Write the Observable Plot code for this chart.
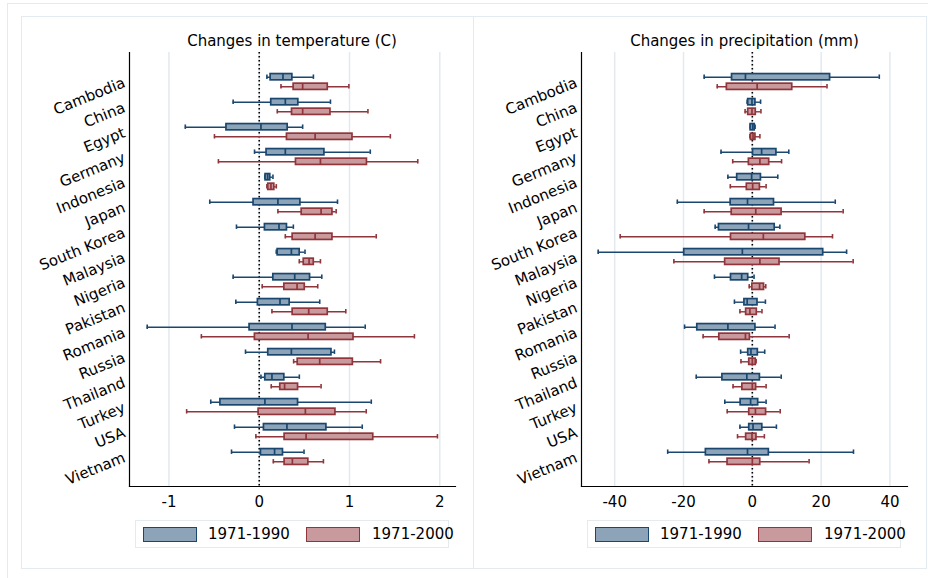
<!DOCTYPE html>
<html><head><meta charset="utf-8">
<script src="https://cdn.jsdelivr.net/npm/d3@7"></script>
<script src="https://cdn.jsdelivr.net/npm/@observablehq/plot@0.6"></script>
<style>
body{margin:0;background:#fff;font-family:"DejaVu Sans",sans-serif;}
#wrap{position:relative;width:928px;height:578px;overflow:hidden;background:#fff;}
.frame{position:absolute;border:1px solid #e4ebf0;box-sizing:border-box;}
.title{position:absolute;text-align:center;font-size:15px;line-height:16px;color:#000;white-space:nowrap;}
.legend{position:absolute;height:28px;width:314px;border:1px solid #e4ebf0;box-sizing:border-box;background:#fff;}
.sw{position:absolute;top:6px;width:54px;height:15px;box-sizing:border-box;border:1.6px solid;}
.lt{position:absolute;top:-1px;font-size:15px;line-height:28px;color:#000;white-space:nowrap;}
.plot{position:absolute;top:16px;}
</style></head><body><div id="wrap"></div>
<script>
const countries = ["Cambodia","China","Egypt","Germany","Indonesia","Japan","South Korea","Malaysia","Nigeria","Pakistan","Romania","Russia","Thailand","Turkey","USA","Vietnam"];
const series = ["1971-1990","1971-2000"];
const tempTicks = [-1, 0, 1, 2];
const precTicks = [-40, -20, 0, 20, 40];
// five-number summaries per country: [lower whisker, q1, median, q3, upper whisker]
const temp1990 = [[0.085,0.126,0.263,0.367,0.6],[-0.289,0.133,0.289,0.433,0.789],[-0.819,-0.363,0.019,0.315,0.481],[-0.052,0.081,0.289,0.722,1.23],[0.063,0.07,0.093,0.122,0.152],[-0.548,-0.063,0.207,0.456,0.867],[-0.252,0.063,0.219,0.307,0.378],[0.189,0.204,0.356,0.448,0.507],[-0.289,0.156,0.393,0.563,0.693],[-0.259,-0.015,0.23,0.337,0.67],[-1.241,-0.107,0.363,0.737,1.174],[-0.152,0.1,0.356,0.8,0.833],[0.019,0.067,0.141,0.278,0.444],[-0.537,-0.43,0.063,0.43,1.241],[-0.274,0.052,0.307,0.744,1.141],[-0.307,0.019,0.17,0.263,0.496]];
const temp2000 = [[0.241,0.381,0.481,0.759,0.993],[0.2,0.363,0.481,0.789,1.204],[-0.496,0.307,0.619,1.033,1.452],[-0.452,0.407,0.678,1.193,1.756],[0.085,0.1,0.13,0.167,0.189],[0.207,0.47,0.685,0.811,0.852],[0.289,0.37,0.619,0.811,1.296],[0.444,0.493,0.552,0.604,0.678],[0.033,0.278,0.419,0.504,0.648],[0.141,0.37,0.548,0.759,0.959],[-0.641,-0.048,0.541,1.044,1.719],[0.381,0.426,0.67,1.037,1.344],[0.133,0.233,0.281,0.43,0.685],[-0.804,-0.007,0.511,0.844,1.185],[-0.037,0.281,0.519,1.263,1.974],[0.156,0.281,0.367,0.544,0.711]];
const prec1990 = [[-14.0,-5.9,-2.0,22.6,36.9],[-1.5,-1.2,-0.1,0.9,2.4],[-0.6,-0.5,0.1,0.7,0.8],[-9.1,0.2,2.7,7.0,10.6],[-7.1,-4.4,-0.2,2.5,7.4],[-21.8,-6.3,-1.4,6.3,24.1],[-10.8,-9.7,-1.1,6.5,8.0],[-44.8,-19.8,-2.9,20.6,27.4],[-11.0,-6.2,-3.1,-1.2,0.5],[-5.2,-2.3,-1.5,1.5,3.8],[-19.7,-16.0,-7.1,0.9,6.6],[-3.4,-1.2,-0.4,1.6,3.6],[-16.3,-8.7,-1.6,2.2,8.4],[-8.0,-3.4,-0.5,1.7,4.0],[-3.6,-0.9,0.2,2.9,7.0],[-24.6,-13.5,-1.4,4.8,29.4]];
const prec2000 = [[-10.2,-7.4,1.4,11.6,21.7],[-2.1,-1.2,-0.1,1.0,2.5],[-0.7,-0.4,0.2,0.9,2.2],[-5.7,-1.0,2.2,4.9,8.5],[-6.4,-1.6,0.1,2.2,4.0],[-14.0,-6.0,1.0,8.5,26.4],[-38.4,-6.2,3.2,15.4,23.3],[-22.8,-7.9,2.2,7.9,29.3],[-0.9,0.0,2.1,3.4,3.9],[-3.6,-1.8,-0.7,1.3,2.8],[-14.3,-9.6,-2.0,-0.7,10.7],[-3.3,-0.9,0.0,1.0,1.1],[-5.6,-2.9,0.0,1.1,4.0],[-7.3,-0.9,0.9,4.0,8.1],[-4.3,-1.8,-0.1,1.2,3.5],[-12.6,-7.2,0.0,2.3,16.5]];

const palette = {
  "1971-1990": {fill: "#8ca3b8", stroke: "#1a476f"},
  "1971-2000": {fill: "#c89a9e", stroke: "#90353b"}
};

function rows(arr, s) {
  return arr.map((v, i) => ({country: countries[i], series: s, lo: v[0], q1: v[1], med: v[2], q3: v[3], hi: v[4]}));
}

// band = 25.53px; blue row sits above the band centre, red row below
function seriesMarks(data, s, up) {
  const c = palette[s];
  const half = 12.765, off = 4.8, bh = 3.4, ch = 2.5;
  const boxT = half - off - bh, boxB = half + off - bh;
  const capT = half - off - ch, capB = half + off - ch;
  const ins = (a, b) => up ? {insetTop: a, insetBottom: b} : {insetTop: b, insetBottom: a};
  return [
    Plot.ruleY(data, {y: "country", x1: "lo", x2: "hi", dy: up ? -off : off, stroke: c.stroke, strokeWidth: 1.4}),
    Plot.tickX(data, {y: "country", x: "lo", ...ins(capT, capB), stroke: c.stroke, strokeWidth: 1.6}),
    Plot.tickX(data, {y: "country", x: "hi", ...ins(capT, capB), stroke: c.stroke, strokeWidth: 1.6}),
    Plot.barX(data, {y: "country", x1: "q1", x2: "q3", ...ins(boxT, boxB), fill: c.fill, stroke: c.stroke, strokeWidth: 1.7}),
    Plot.tickX(data, {y: "country", x: "med", ...ins(boxT, boxB), stroke: c.stroke, strokeWidth: 1.7})
  ];
}

function panel(a, b, ticks, domain) {
  return Plot.plot({
    width: 452, height: 500,
    marginTop: 36, marginBottom: 30, marginLeft: 108, marginRight: 18,
    style: {fontFamily: "DejaVu Sans", fontSize: "15px", background: "transparent", color: "#000", overflow: "visible"},
    x: {domain, label: null},
    y: {domain: countries, paddingInner: 0, paddingOuter: 0.5, label: null},
    marks: [
      Plot.gridX(ticks, {stroke: "#e2eaf0", strokeOpacity: 1, strokeWidth: 1.5}),
      Plot.ruleX([0], {stroke: "#000", strokeWidth: 1.6, strokeDasharray: "1.6,2.4"}),
      ...seriesMarks(rows(a, series[0]), series[0], true),
      ...seriesMarks(rows(b, series[1]), series[1], false),
      Plot.frame({anchor: "left", stroke: "#000", strokeWidth: 1.2}),
      Plot.frame({anchor: "bottom", stroke: "#000", strokeWidth: 1.2}),
      Plot.axisX({ticks, tickSize: 0, tickPadding: 10, tickFormat: d => String(d), fontSize: 15}),
      Plot.axisY({tickSize: 0, tickPadding: 5, tickRotate: -22, fontSize: 15})
    ]
  });
}

const wrap = document.getElementById("wrap");
function add(html) { wrap.insertAdjacentHTML("beforeend", html); }
add('<div class="frame" style="left:7px;top:3px;width:940px;height:600px"></div>');
add('<div class="frame" style="left:21px;top:16px;width:453px;height:553px"></div>');
add('<div class="frame" style="left:473px;top:16px;width:454px;height:553px"></div>');

const p1 = panel(temp1990, temp2000, tempTicks, [-1.437, 2.174]);
p1.classList.add("plot"); p1.style.left = "21px"; wrap.appendChild(p1);
const p2 = panel(prec1990, prec2000, precTicks, [-49.65, 45.1]);
p2.classList.add("plot"); p2.style.left = "473px"; wrap.appendChild(p2);

add('<div class="title" style="left:129px;width:326px;top:33px">Changes in temperature (C)</div>');
add('<div class="title" style="left:581px;width:327px;top:33px">Changes in precipitation (mm)</div>');

function legend(left, top) {
  const s = series.map((k, i) =>
    `<div class="sw" style="left:${i ? 170 : 7}px;background:${palette[k].fill};border-color:${palette[k].stroke}"></div>` +
    `<div class="lt" style="left:${i ? 236 : 72}px">${k}</div>`).join("");
  add(`<div class="legend" style="left:${left}px;top:${top}px">${s}</div>`);
}
legend(135, 520);
legend(587, 520);
</script></body></html>
